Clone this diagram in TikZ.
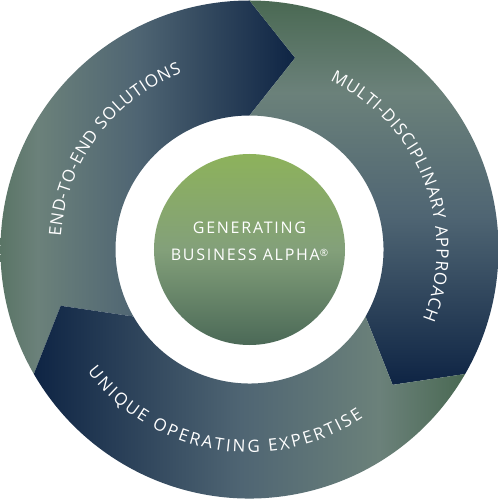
\documentclass[tikz,border=0pt]{standalone}
\usepackage{fontspec}
\setmainfont{Open Sans}
\newfontfamily\labfont{Open Sans}
\newfontfamily\midfont[LetterSpace=11]{Open Sans}
\usetikzlibrary{decorations.text}
\definecolor{cG}{HTML}{4A6953}
\definecolor{cL}{HTML}{6B817A}
\definecolor{cM}{HTML}{4F6573}
\definecolor{cN}{HTML}{0E2444}
\definecolor{cTop}{HTML}{8DB25B}
\definecolor{cMid}{HTML}{83A07A}
\definecolor{cBot}{HTML}{4B6957}
\pgfdeclarehorizontalshading{segA}{100bp}{color(0bp)=(cG); color(25bp)=(cG); color(36bp)=(cL); color(51bp)=(cM); color(75bp)=(cN); color(100bp)=(cN)}
\pgfdeclareverticalshading{segB}{100bp}{color(0bp)=(cN); color(25bp)=(cN); color(47bp)=(cM); color(63bp)=(cL); color(75bp)=(cG); color(100bp)=(cG)}
\pgfdeclarehorizontalshading{segC}{100bp}{color(0bp)=(cN); color(25bp)=(cN); color(49bp)=(cM); color(65bp)=(cL); color(75bp)=(cG); color(100bp)=(cG)}
\begin{document}
\begin{tikzpicture}[x=1pt,y=1pt,
  hub/.style={align=center, text=white, font=\midfont\fontsize{16}{27}\selectfont}]
\fill[white] (-249.5,-250.5) rectangle (250.5,249.5);
\useasboundingbox (-249.5,-250.5) rectangle (250.5,249.5);
% ring segments (clockwise arrows)
\shade[shading=segA] (210:249) arc[start angle=210, end angle=90, radius=249] -- (76.6:197) -- (90:134) arc[start angle=90, end angle=210, radius=134] -- (196.6:197) -- cycle;
\shade[shading=segB] (90:249) arc[start angle=90, end angle=-30, radius=249] -- (-43.4:197) -- (-30:134) arc[start angle=-30, end angle=90, radius=134] -- (76.6:197) -- cycle;
\shade[shading=segC] (-30:249) arc[start angle=-30, end angle=-150, radius=249] -- (-163.4:197) -- (-150:134) arc[start angle=-150, end angle=-30, radius=134] -- (-43.4:197) -- cycle;
% centre disc
\shade[top color=cTop, bottom color=cBot, middle color=cMid] (0,0) circle (95.5);
\node[hub] (hubtext) at (0,8) {GENERATING\\BUSINESS ALPHA{\fontsize{10}{10}\selectfont\raisebox{0.45em}{®}}};
% curved labels
\path[decorate, decoration={text along path, text align={fit to path}, text={|\labfont\fontsize{17}{17}\selectfont\color{white}|END-TO-END SOLUTIONS}}] (176:189) arc[start angle=176, end angle=111, radius=189];
\path[decorate, decoration={text along path, text align={fit to path}, text={|\labfont\fontsize{17}{17}\selectfont\color{white}|MULTI-DISCIPLINARY APPROACH}}] (64.5:187) arc[start angle=64.5, end angle=-22, radius=187];
\path[decorate, decoration={text along path, text align={fit to path}, text={|\labfont\fontsize{17}{17}\selectfont\color{white}|UNIQUE OPERATING EXPERTISE}}] (217:203) arc[start angle=217, end angle=304, radius=203];
\end{tikzpicture}
\end{document}
